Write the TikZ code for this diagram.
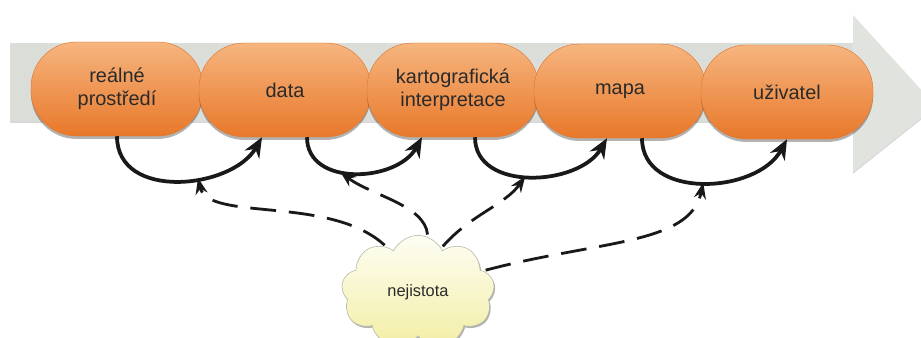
\documentclass[tikz,border=0pt]{standalone}
\usepackage{fontspec}
\setmainfont{Liberation Sans}
\usetikzlibrary{arrows.meta,shapes.symbols,shadows}

\definecolor{orTop}{HTML}{F6B57F}
\definecolor{orBot}{HTML}{E8782A}
\definecolor{orEdge}{HTML}{E07A34}
\definecolor{bandGray}{HTML}{DADDD8}
\definecolor{headGray}{HTML}{E1E3DF}
\definecolor{cloudTop}{HTML}{FEFEF4}
\definecolor{cloudBot}{HTML}{F2EEA4}
\definecolor{cloudEdge}{HTML}{B8B8A8}
\definecolor{txt}{HTML}{2A2A2A}

\tikzset{
  stage/.style={rectangle, rounded corners=1.36cm,
    minimum width=5.16cm, minimum height=2.82cm,
    top color=orTop, bottom color=orBot, draw=orEdge, line width=0.4pt,
    text=txt, align=center, font=\fontsize{17}{20}\selectfont,
    drop shadow={shadow xshift=0pt, shadow yshift=-2.5pt, opacity=0.3, fill=black}},
  cloudbox/.style={cloud, cloud puffs=9, cloud puff arc=130, aspect=1.3,
    minimum width=4.6cm, minimum height=3.4cm,
    top color=cloudTop, bottom color=cloudBot, draw=cloudEdge, line width=0.5pt,
    text=txt, font=\fontsize{14}{16}\selectfont,
    drop shadow={shadow xshift=1pt, shadow yshift=-1.5pt, opacity=0.3, fill=black}},
  flow/.style={line width=3.2pt, black!90, -{Stealth[length=0.6cm, width=0.5cm]}},
  doubt/.style={line width=2.4pt, black!90, dash pattern=on 22pt off 11pt,
    shorten <=2pt, -{Stealth[length=0.48cm, width=0.36cm]}}
}

\begin{document}
\begin{tikzpicture}[x=0.03cm, y=-0.03cm]
  \useasboundingbox[fill=white] (0,0) rectangle (921,338);

  % grey process arrow behind the stages
  \fill[bandGray, drop shadow={shadow xshift=0pt, shadow yshift=-1.5pt, opacity=0.15, fill=black}]
    (10,43) -- (853,43) -- (853,121) -- (10,121) -- cycle;
  \fill[headGray, drop shadow={shadow xshift=0pt, shadow yshift=-1.5pt, opacity=0.15, fill=black}]
    (853,15) -- (936,106) -- (853,172) -- cycle;

  % stages
  \node[stage] (b1) at (117,89) {reálné\\prostředí};
  \node[stage] (b2) at (285,90) {data};
  \node[stage] (b3) at (453,90) {kartografická\\interpretace};
  \node[stage] (b4) at (620,91) {mapa};
  \node[stage] (b5) at (787,92) {uživatel};

  % uncertainty
  \node[cloudbox] (cl) at (418,292) {nejistota};

  % transitions between stages
  \draw[flow] (b1.south) .. controls +(0,65) and +(-30,52) ..
    ([xshift=-0.69cm]b2.south) coordinate[pos=0.6] (m1);
  \draw[flow] ([xshift=0.66cm]b2.south) .. controls +(0,50) and +(-25,45) ..
    ([xshift=-0.93cm]b3.south) coordinate[pos=0.4] (m2);
  \draw[flow] ([xshift=0.66cm]b3.south) .. controls +(0,55) and +(-28,48) ..
    ([xshift=-0.39cm]b4.south) coordinate[pos=0.47] (m3);
  \draw[flow] ([xshift=0.66cm]b4.south) .. controls +(0,62) and +(-30,55) ..
    (b5.south) coordinate[pos=0.5] (m4);

  % uncertainty enters every transition
  \draw[doubt] (cl.125) .. controls (330,195) and (208,222) .. (m1);
  \draw[doubt] (cl.80) .. controls (425,205) and (370,195) .. (m2);
  \draw[doubt] (cl.62) .. controls (470,215) and (505,205) .. (m3);
  \draw[doubt] (cl.18) .. controls (600,240) and (690,245) .. (m4);
\end{tikzpicture}
\end{document}
